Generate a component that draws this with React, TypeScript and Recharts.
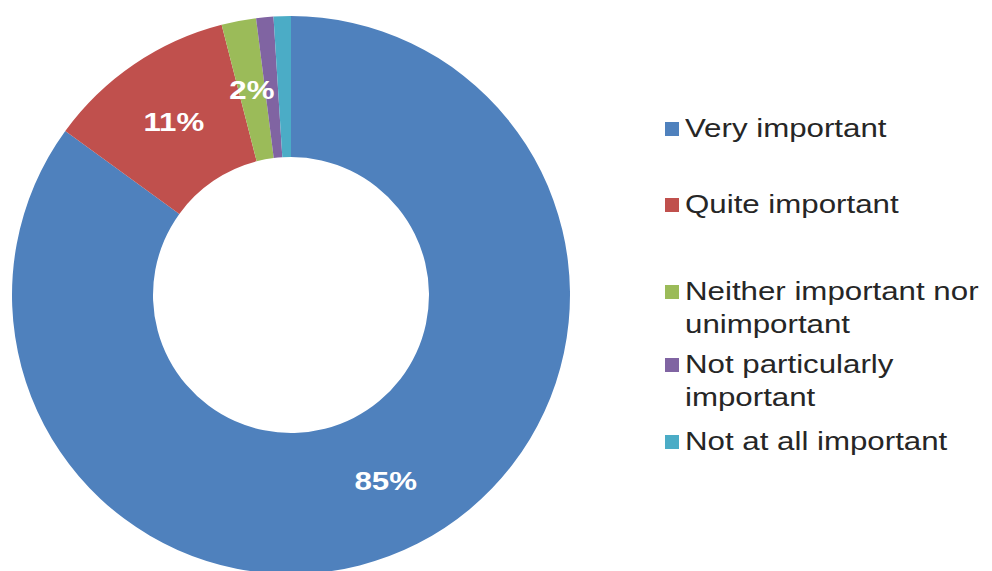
import React from "react";
import { PieChart, Pie, Cell } from "recharts";

const categories = [
  "Very important",
  "Quite important",
  "Neither important nor unimportant",
  "Not particularly important",
  "Not at all important",
];
const values = [85, 11, 2, 1, 1];
const colors = ["#4F81BD", "#C0504D", "#9BBB59", "#8064A2", "#4BACC6"];
const labelTexts = ["85%", "11%", "2%", "", ""];

const data = categories.map((name, i) => ({ name, value: values[i], label: labelTexts[i] }));

// legend first-line centre positions (layout only)
const legendTops = [128, 204, 291, 364, 441];

const RAD = Math.PI / 180;

const renderLabel = (props: any) => {
  const { cx, cy, midAngle, innerRadius, outerRadius, index } = props;
  const txt = labelTexts[index];
  if (!txt) return null;
  const r = (innerRadius + outerRadius) / 2;
  const x = cx + r * Math.cos(-midAngle * RAD);
  const y = cy + r * Math.sin(-midAngle * RAD);
  return (
    <text
      transform={`translate(${x},${y}) scale(1.25,1)`}
      x={0}
      y={0}
      textAnchor="middle"
      dominantBaseline="central"
      fill="#ffffff"
      fontFamily="'Liberation Sans', Arial, sans-serif"
      fontWeight="bold"
      fontSize={25}
    >
      {txt}
    </text>
  );
};

export default function App() {
  return (
    <div style={{ position: "absolute", left: 0, top: 0, width: 992, height: 571, background: "#fff", overflow: "hidden" }}>
      <PieChart width={992} height={571} margin={{ top: 0, right: 0, bottom: 0, left: 0 }}>
        <Pie
          data={data}
          dataKey="value"
          nameKey="name"
          cx={291}
          cy={295}
          innerRadius={138}
          outerRadius={279}
          startAngle={90}
          endAngle={-270}
          stroke="none"
          label={renderLabel}
          labelLine={false}
          isAnimationActive={false}
        >
          {data.map((d, i) => (
            <Cell key={d.name} fill={colors[i]} />
          ))}
        </Pie>
      </PieChart>
      {categories.map((name, i) => (
        <div key={name} style={{ position: "absolute", left: 665, top: legendTops[i] - 16.5 }}>
          <div
            style={{
              position: "absolute",
              left: 0,
              top: 10,
              width: 14,
              height: 14,
              background: colors[i],
            }}
          />
          <div
            style={{
              position: "absolute",
              left: 20,
              top: 0,
              width: 242,
              fontFamily: "'Liberation Sans', Arial, sans-serif",
              fontSize: 25,
              lineHeight: "33px",
              color: "#262626",
              transform: "scaleX(1.25)",
              transformOrigin: "left top",
              whiteSpace: "normal",
            }}
          >
            {name}
          </div>
        </div>
      ))}
    </div>
  );
}
